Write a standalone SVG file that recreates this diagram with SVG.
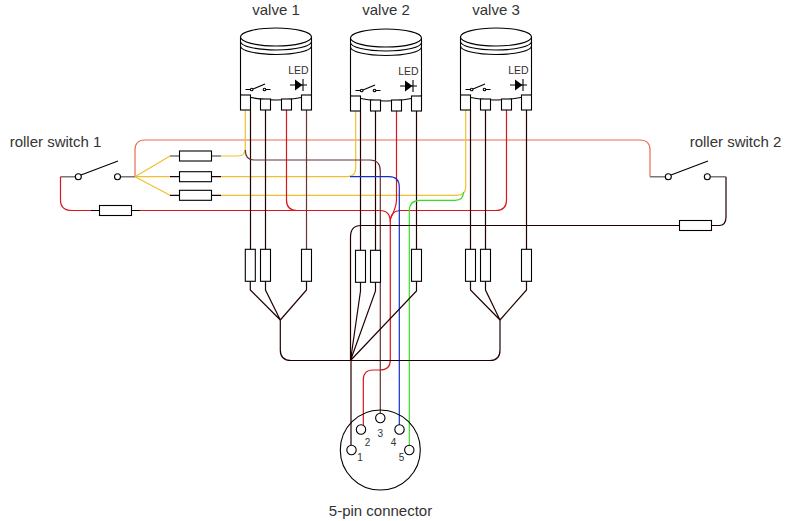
<svg xmlns="http://www.w3.org/2000/svg" width="791" height="521" viewBox="0 0 791 521">
<style>
text{font-family:"Liberation Sans",Arial,sans-serif;fill:#333;text-anchor:middle}
.lbl{font-size:15px}.led{font-size:10.5px}.pin{font-size:10px}
.w{fill:none;stroke:#200;stroke-width:1.2}
.y{stroke:#f0c030}.r{stroke:#d9161c}.o{stroke:#ea6b50}.b{stroke:#1030d0}.g{stroke:#33e020}.m{stroke:#6b3030}.k{stroke:#200}.gr{stroke:#777;stroke-width:1.6}
.s{fill:#fff;stroke:#000;stroke-width:1.1}
.n{fill:none;stroke:#000;stroke-width:1.1}
</style>
<defs>
<g id="valve">
<path class="s" d="M240.5 37V95Q276 105 311.5 95V37"/>
<path class="s" d="M240.5 37A35.5 9 0 0 1 311.5 37A35.5 9 0 0 1 240.5 37Z"/>
<path class="n" d="M240.5 41.5A35.5 8.5 0 0 0 311.5 41.5M240.5 46A35.5 8.5 0 0 0 311.5 46"/>
<rect class="s" x="240.5" y="95" width="10" height="15"/>
<rect class="s" x="260.5" y="99" width="10" height="11"/>
<rect class="s" x="281.5" y="99" width="10" height="11"/>
<rect class="s" x="301.5" y="95" width="10" height="15"/>
<path class="n" d="M245.5 89.5H250M253 89L265 84M266 89.5H270.5M290 85H307"/>
<circle class="s" cx="251.7" cy="89.5" r="1.3"/><circle class="s" cx="264.5" cy="89.5" r="1.3"/>
<path fill="#000" d="M295 79.5V90.5L302.5 85Z"/>
<path class="n" d="M303 79V91"/>
<text class="led" x="298.5" y="74">LED</text>
</g>
<rect id="rv" class="s" x="-5" y="-16" width="10" height="32"/>
<rect id="rh" class="s" x="-16" y="-5" width="32" height="10"/>
</defs>

<g id="connectors">
<path class="w o" d="M135 176.7V150Q135 140 145 140H640Q650 140 650 150V176.7"/>
<path class="w gr" d="M120.5 176.7H135M60.5 176.7H75M650 176.7H665M710.5 176.7H725.7M170 156H179M211 156H221"/>
<path class="w y" d="M135 176.7L170 156M221 156H238Q245.3 156 245.3 148V110"/>
<path class="w y" d="M135 176.7H170M221 176.7H347Q355.7 176.7 355.7 168V111"/>
<path class="w y" d="M135 176.7L170 195.3M221 195.3H457Q465.7 195.3 465.7 187V110"/>
<path class="w k" d="M170 176.7H180M211 176.7H221M170 195.3H180M211 195.3H221"/>
<path class="w r" d="M60.5 176.7V200Q60.5 210.5 72 210.5H100M131 210.5H380Q390.3 210.5 390.3 222V360Q390.3 370 380 370H373Q363.3 370 363.3 380V425"/>
<path class="w k" d="M91 210.5H100M131 210.5H140"/>
<path class="w r" d="M286.5 110V200Q286.5 210.5 297 210.5"/>
<path class="w r" d="M396.5 111V200Q396.5 207 390.3 219"/>
<path class="w r" d="M506.5 110V200Q506.5 210.5 496 210.5H401Q390.3 210.5 390.3 222"/>
<path class="w k" d="M250.5 110V250M265.5 110V250M360.5 111V251M375.5 111V251M416.5 111V250M470.5 110V250M485.5 110V250M526.5 110V250"/>
<path class="w m" d="M306.5 110V250"/>
<path class="w m" d="M245.3 150Q245.3 160 254 160H370Q380.3 160 380.3 171V413"/>
<path class="w b" d="M350 176.7H389Q399.3 176.7 399.3 187V425"/>
<path class="w g" d="M463.5 192Q463.5 200.3 455 200.3H420Q409.3 200.3 409.3 211V446"/>
<path class="w k" d="M351 445V360.5M350.5 360.5V237Q350.5 225.5 361 225.5H680M711 225.5H719Q726 225.5 726 217V176.7"/>
<path class="w k" d="M250.3 281V290L280.3 320M265.5 281V290L280.3 320M306.5 281V290L280.3 320"/>
<path class="w k" d="M470.5 281V290L500 320M485.5 281V290L500 320M526.5 281V290L500 320"/>
<path class="w k" d="M360.5 282V291L350.5 360.5M375.5 282V291L350.5 360.5M416.5 281V291L350.5 360.5"/>
<path class="w k" d="M280.3 320V350Q280.3 360.5 291 360.5H490Q500 360.5 500 350V320"/>
</g>

<g id="valve-1"><use href="#valve"/><text class="lbl" x="276" y="15">valve 1</text></g>
<g id="valve-2"><use href="#valve" x="110" y="1"/><text class="lbl" x="386" y="15">valve 2</text></g>
<g id="valve-3"><use href="#valve" x="220"/><text class="lbl" x="496" y="15">valve 3</text></g>

<g id="roller-switch-1">
<text class="lbl" x="55.5" y="147">roller switch 1</text>
<path class="n" d="M81 175L118 161"/>
<circle class="s" cx="78.3" cy="176.7" r="3"/><circle class="s" cx="117.5" cy="176.7" r="3"/>
</g>
<g id="roller-switch-2">
<text class="lbl" x="735.5" y="147">roller switch 2</text>
<path class="n" d="M671 175L708 161"/>
<circle class="s" cx="668.3" cy="176.7" r="3"/><circle class="s" cx="707.3" cy="176.7" r="3"/>
</g>

<g id="resistor-h1"><use href="#rh" x="195.5" y="156"/></g>
<g id="resistor-h2"><use href="#rh" x="195.5" y="176.7"/></g>
<g id="resistor-h3"><use href="#rh" x="195.5" y="195.3"/></g>
<g id="resistor-h4"><use href="#rh" x="115.5" y="210.5"/></g>
<g id="resistor-h5"><use href="#rh" x="695.5" y="225.5"/></g>
<g id="resistor-v1"><use href="#rv" x="250.3" y="265.3"/></g>
<g id="resistor-v2"><use href="#rv" x="265.5" y="265.3"/></g>
<g id="resistor-v3"><use href="#rv" x="306.5" y="265.3"/></g>
<g id="resistor-v4"><use href="#rv" x="360.5" y="266.3"/></g>
<g id="resistor-v5"><use href="#rv" x="375.5" y="266.3"/></g>
<g id="resistor-v6"><use href="#rv" x="416.5" y="265.3"/></g>
<g id="resistor-v7"><use href="#rv" x="470.5" y="265.3"/></g>
<g id="resistor-v8"><use href="#rv" x="485.5" y="265.3"/></g>
<g id="resistor-v9"><use href="#rv" x="526.5" y="265.3"/></g>

<g id="connector-5pin">
<circle class="n" cx="380.3" cy="450" r="40"/>
<circle class="n" cx="351.5" cy="450" r="4.7"/>
<circle class="n" cx="361" cy="429.5" r="4.7"/>
<circle class="n" cx="380.3" cy="418" r="4.7"/>
<circle class="n" cx="399.5" cy="429.5" r="4.7"/>
<circle class="n" cx="409.3" cy="450" r="4.7"/>
<text class="pin" x="360" y="461">1</text>
<text class="pin" x="367.5" y="446">2</text>
<text class="pin" x="380.3" y="437">3</text>
<text class="pin" x="393.5" y="446">4</text>
<text class="pin" x="401.5" y="461">5</text>
<text class="lbl" x="380.5" y="516">5-pin connector</text>
</g>
</svg>
